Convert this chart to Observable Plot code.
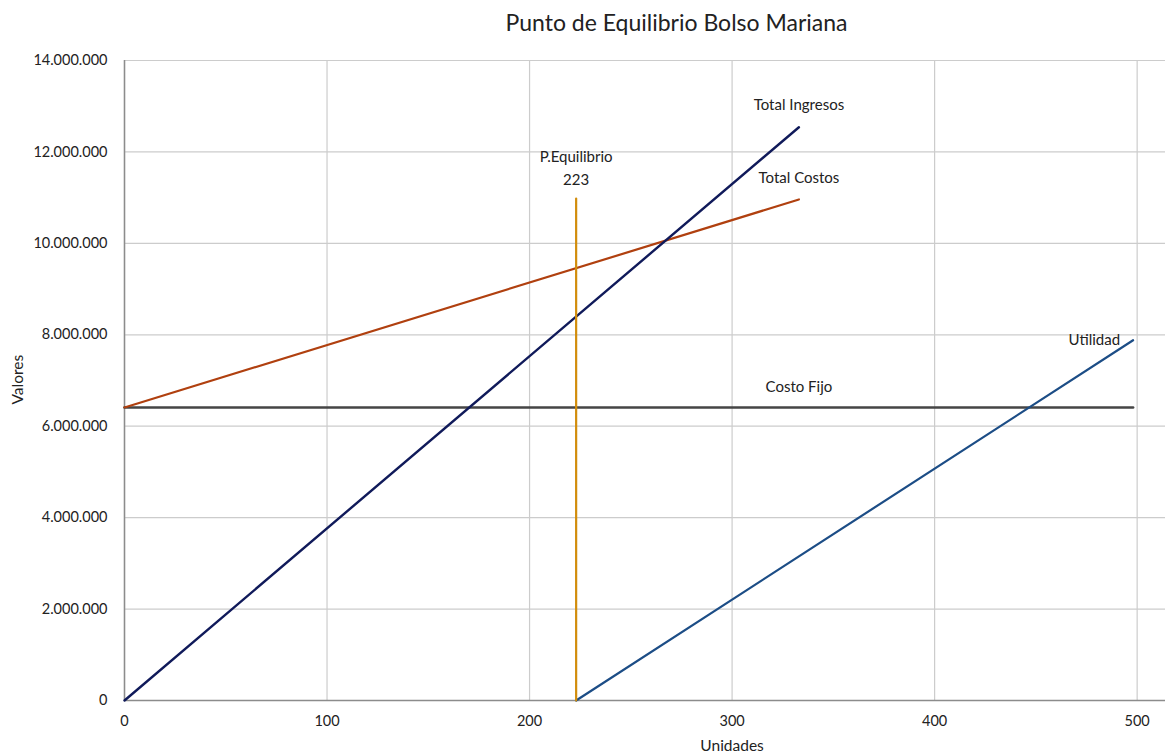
<!DOCTYPE html>
<html>
<head>
<meta charset="utf-8">
<script src="https://cdn.jsdelivr.net/npm/d3@7"></script>
<script src="https://cdn.jsdelivr.net/npm/@observablehq/plot@0.6"></script>
<style>
  html, body { margin: 0; padding: 0; background: #fff; }
  #title { height: 40px; width: 1165px; text-align: center; font-family: Lato, "Open Sans", sans-serif; font-size: 23px; color: #222; line-height: 44px; padding-left: 188px; box-sizing: border-box; }
  #chart svg { display: block; }
</style>
</head>
<body>
<div id="title">Punto de Equilibrio Bolso Mariana</div>
<div id="chart"></div>
<script>
// ---- Data ----
const xTicks = [0, 100, 200, 300, 400, 500];
const yTicks = [0, 2000000, 4000000, 6000000, 8000000, 10000000, 12000000, 14000000];

const ingresosX = [0, 333];
const ingresosY = [0, 12540000];

const costosX = [0, 333];
const costosY = [6410000, 10960000];

const fijoX = [0, 498];
const fijoY = [6410000, 6410000];

const utilidadX = [223, 498];
const utilidadY = [0, 7880000];

const equilibrioX = [223, 223];
const equilibrioY = [0, 10980000];

const toRows = (xs, ys) => xs.map((x, i) => ({x, y: ys[i]}));
const ingresos = toRows(ingresosX, ingresosY);
const costos = toRows(costosX, costosY);
const fijo = toRows(fijoX, fijoY);
const utilidad = toRows(utilidadX, utilidadY);
const equilibrio = toRows(equilibrioX, equilibrioY);

const loc = d3.formatLocale({decimal: ",", thousands: ".", grouping: [3], currency: ["$", ""]});
const fmt = loc.format(",");

const font = "Lato, 'Open Sans', sans-serif";
const labelColor = "#222";
const lblSize = 15;

const chart = Plot.plot({
  width: 1165,
  height: 715,
  marginLeft: 124,
  marginRight: 0,
  marginTop: 20,
  marginBottom: 55,
  style: {fontFamily: font, fontSize: "14.5px", color: "#333", background: "#fff"},
  x: {domain: [0, 514], ticks: xTicks, label: null},
  y: {domain: [0, 14000000], ticks: yTicks, label: null},
  marks: [
    Plot.gridX(xTicks, {stroke: "#cccccc", strokeOpacity: 1, strokeWidth: 1.2}),
    Plot.gridY(yTicks, {stroke: "#cccccc", strokeOpacity: 1, strokeWidth: 1.2}),
    Plot.ruleX([0], {stroke: "#8c8c8c", strokeWidth: 1.5}),
    Plot.ruleY([0], {stroke: "#8c8c8c", strokeWidth: 1.5}),
    Plot.axisX(xTicks, {tickSize: 0, tickPadding: 15, tickFormat: d => String(d), fill: "#222"}),
    Plot.axisY(yTicks, {tickSize: 0, tickPadding: 17, tickFormat: fmt, fill: "#222"}),
    Plot.line(fijo, {x: "x", y: "y", stroke: "#454545", strokeWidth: 2.6}),
    Plot.line(costos, {x: "x", y: "y", stroke: "#b0400f", strokeWidth: 2.2}),
    Plot.line(ingresos, {x: "x", y: "y", stroke: "#101a5a", strokeWidth: 2.4}),
    Plot.line(utilidad, {x: "x", y: "y", stroke: "#1c4d86", strokeWidth: 2.2}),
    Plot.line(equilibrio, {x: "x", y: "y", stroke: "#d28d0c", strokeWidth: 2.2}),
    // labels
    Plot.text(ingresos.slice(-1), {x: "x", y: "y", text: () => "Total Ingresos", dy: -22, fontSize: lblSize, fill: labelColor}),
    Plot.text(costos.slice(-1), {x: "x", y: "y", text: () => "Total Costos", dy: -21, fontSize: lblSize, fill: labelColor}),
    Plot.text(fijo.slice(-1), {x: d => ingresosX[1], y: "y", text: () => "Costo Fijo", dy: -20, fontSize: lblSize, fill: labelColor}),
    Plot.text(utilidad.slice(-1), {x: "x", y: "y", text: () => "Utilidad", dx: -13, textAnchor: "end", fontSize: lblSize, fill: labelColor}),
    Plot.text(equilibrio.slice(-1), {x: "x", y: "y", text: () => "P.Equilibrio", dy: -41, fontSize: lblSize, fill: labelColor}),
    Plot.text(equilibrio.slice(-1), {x: "x", y: "y", text: d => String(d.x), dy: -18, fontSize: lblSize, fill: labelColor}),
    // axis titles
    Plot.text(["Unidades"], {x: 300, frameAnchor: "bottom", dy: 50, fontSize: 15.5, fill: labelColor}),
    Plot.text(["Valores"], {frameAnchor: "left", dx: -106, dy: 24, rotate: -90, fontSize: 15.5, fill: labelColor})
  ]
});
document.getElementById("chart").append(chart);
</script>
</body>
</html>
